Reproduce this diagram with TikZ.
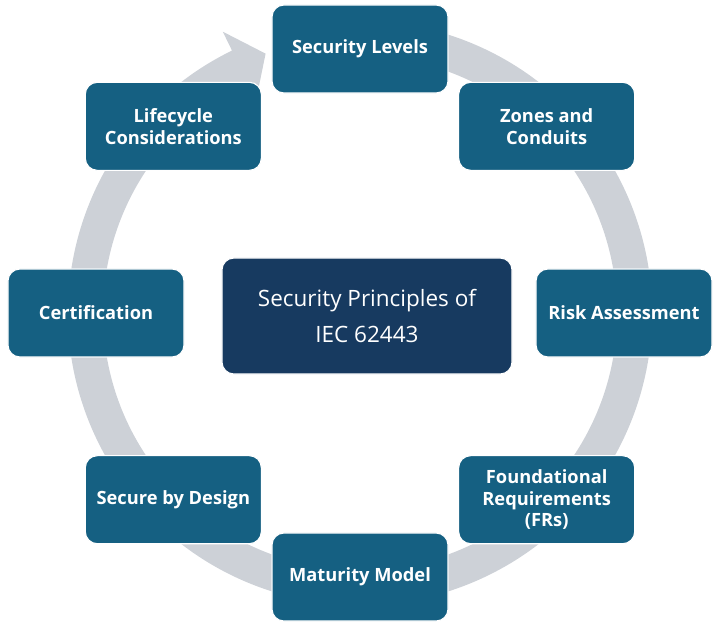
\documentclass[tikz,border=0pt]{standalone}
\usepackage{fontspec}
\setmainfont{Open Sans}
\definecolor{pillarblue}{HTML}{156082}
\definecolor{hubblue}{HTML}{173A60}
\definecolor{ringgray}{HTML}{CDD1D7}
\tikzset{
  pillar/.style={fill=pillarblue, draw=white, line width=.8pt, rounded corners=.3cm,
    minimum width=4.4cm, minimum height=2.2cm, align=center, text=white,
    font=\bfseries\fontsize{13}{15.5}\selectfont},
  hub/.style={fill=hubblue, draw=white, line width=.8pt, rounded corners=.3cm,
    minimum width=7.25cm, minimum height=2.9cm, align=center, text=white,
    font=\fontsize{16}{25}\selectfont}
}
\begin{document}
\begin{tikzpicture}[x=0.025cm, y=0.025cm]
    % Marco de la figura.
    \useasboundingbox (-360,-313) rectangle (360,313);

    % Anillo gris con punta de flecha.
    \fill[ringgray] (116:292) arc[start angle=116, end angle=460, radius=292]
        -- (460:257) arc[start angle=460, end angle=116, radius=257]
        -- (116:237) -- (110:276) -- (116:313) -- cycle;

    % Principios alrededor del anillo.
    \node[pillar] (levels)   at (90:264)   {Security Levels};
    \node[pillar] (zones)    at (45:264)   {Zones and\\Conduits};
    \node[pillar] (risk)     at (0:264)    {Risk Assessment};
    \node[pillar] (frs)      at (-45:264)  {Foundational\\Requirements\\(FRs)};
    \node[pillar] (maturity) at (-90:264)  {Maturity Model};
    \node[pillar] (design)   at (-135:264) {Secure by Design};
    \node[pillar] (cert)     at (180:264)  {Certification};
    \node[pillar] (life)     at (135:264)  {Lifecycle\\Considerations};

    % Caja central.
    \node[hub] (core) at (7,-3) {Security Principles of\\IEC 62443};
\end{tikzpicture}
\end{document}
